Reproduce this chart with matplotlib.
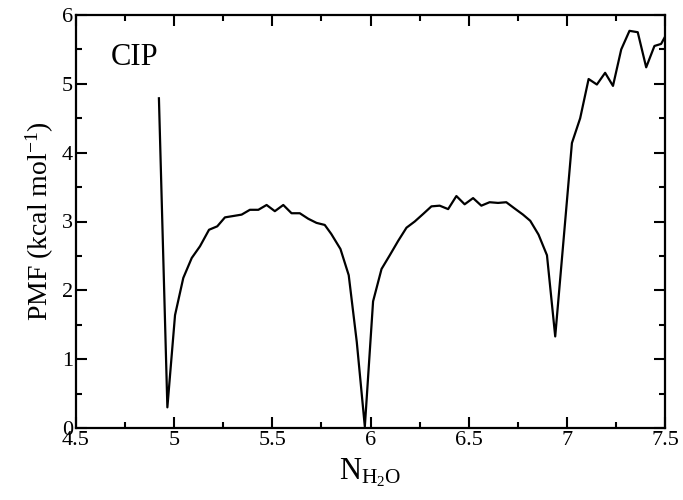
import matplotlib
matplotlib.use("Agg")
import matplotlib.pyplot as plt
from matplotlib.ticker import MultipleLocator

# PMF along the water coordination number
n_h2o = [4.923, 4.966, 5.005, 5.047, 5.090, 5.132, 5.178, 5.220, 5.259, 5.302,
         5.344, 5.386, 5.429, 5.471, 5.513, 5.556, 5.598, 5.640, 5.683, 5.725,
         5.767, 5.800, 5.847, 5.889, 5.930, 5.971, 6.013, 6.056, 6.098, 6.141,
         6.183, 6.225, 6.268, 6.310, 6.352, 6.395, 6.437, 6.479, 6.522, 6.564,
         6.606, 6.649, 6.691, 6.733, 6.776, 6.813, 6.855, 6.898, 6.940, 6.983,
         7.025, 7.067, 7.110, 7.152, 7.194, 7.234, 7.276, 7.318, 7.360, 7.403,
         7.445, 7.479, 7.500]
pmf = [4.79, 0.30, 1.64, 2.18, 2.47, 2.64, 2.88, 2.93, 3.06, 3.08,
       3.10, 3.17, 3.17, 3.24, 3.15, 3.24, 3.12, 3.12, 3.04, 2.98,
       2.95, 2.82, 2.60, 2.22, 1.25, 0.02, 1.84, 2.31, 2.51, 2.72,
       2.91, 3.00, 3.11, 3.22, 3.23, 3.18, 3.37, 3.25, 3.34, 3.23,
       3.28, 3.27, 3.28, 3.19, 3.10, 3.01, 2.81, 2.51, 1.33, 2.75,
       4.14, 4.50, 5.07, 4.99, 5.16, 4.97, 5.50, 5.77, 5.75, 5.24,
       5.55, 5.58, 5.69]

plt.rcParams["font.family"] = ["Liberation Serif", "DejaVu Serif"]
plt.rcParams["mathtext.fontset"] = "custom"
plt.rcParams["mathtext.rm"] = "Liberation Serif"
plt.rcParams["mathtext.it"] = "Liberation Serif"

fig = plt.figure(figsize=(6.83, 5.0), dpi=100)
ax = fig.add_axes([0.111, 0.144, 0.863, 0.826])

ax.plot(n_h2o, pmf, color="black", lw=1.6)

ax.set_xlim(4.5, 7.5)
ax.set_ylim(0, 6)
ax.xaxis.set_major_locator(MultipleLocator(0.5))
ax.xaxis.set_minor_locator(MultipleLocator(0.25))
ax.yaxis.set_major_locator(MultipleLocator(1))
ax.yaxis.set_minor_locator(MultipleLocator(0.5))
ax.xaxis.set_major_formatter(plt.FuncFormatter(lambda v, p: f"{v:g}"))

ax.tick_params(which="both", direction="in", top=True, right=True,
               width=1.5, labelsize=16)
ax.tick_params(which="major", length=8, pad=2)
ax.tick_params(which="minor", length=4)
for s in ax.spines.values():
    s.set_linewidth(1.6)

ax.set_xlabel(r"N$_{\mathrm{H_2O}}$", fontsize=22, labelpad=5)
ax.set_ylabel(r"PMF (kcal mol$^{-1}$)", fontsize=20, labelpad=4)

ax.text(0.06, 0.88, "CIP", transform=ax.transAxes, fontsize=22)

fig.savefig("out.png", dpi=100)
